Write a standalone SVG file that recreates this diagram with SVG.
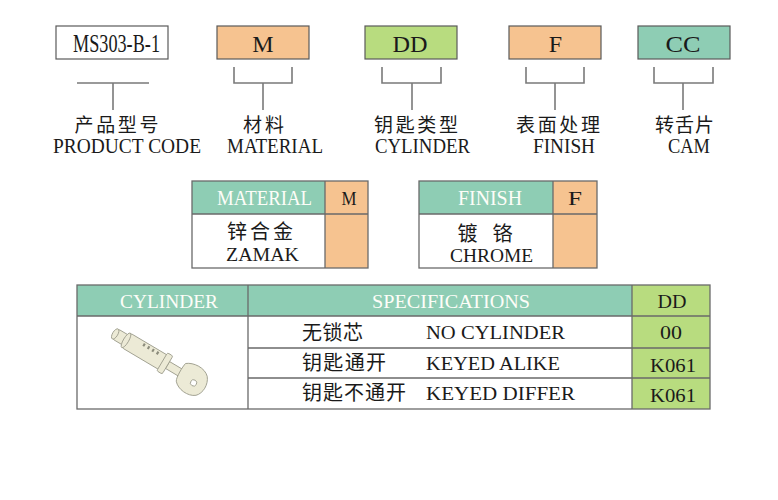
<svg xmlns="http://www.w3.org/2000/svg" width="778" height="500" viewBox="0 0 778 500">
<style>
.en{font-family:"Liberation Serif","Times New Roman",serif;fill:#1a1a1a}
.cn{font-family:"Noto Sans CJK SC","Noto Sans",sans-serif;fill:#1a1a1a}
.wt{fill:#fdfdf8}
.box{stroke:#5a5a5a;stroke-width:1.2}
.org{fill:#F6C390}
.grn{fill:#B8DC7F}
.teal{fill:#8ECDB4}
.wh{fill:#ffffff}
.ln{stroke:#6a6a6a;stroke-width:1.3;fill:none}
.br{stroke:#7a7a7a;stroke-width:1.6;fill:none}
.mid{text-anchor:middle}
</style>
<rect width="778" height="500" fill="#ffffff"/>

<g id="box-code">
<rect class="box wh" x="56" y="26" width="112" height="33"/>
<text class="en mid" x="116.5" y="52" font-size="26" textLength="87" lengthAdjust="spacingAndGlyphs">MS303-B-1</text>
</g>
<g id="box-material">
<rect class="box org" x="217" y="26" width="92" height="33"/>
<text class="en mid" x="263" y="52" font-size="24">M</text>
</g>
<g id="box-cylinder">
<rect class="box grn" x="365" y="26" width="92" height="33"/>
<text class="en mid" x="410" y="52" font-size="24" textLength="35" lengthAdjust="spacingAndGlyphs">DD</text>
</g>
<g id="box-finish">
<rect class="box org" x="509" y="26" width="92" height="33"/>
<text class="en mid" x="555.5" y="52" font-size="24">F</text>
</g>
<g id="box-cam">
<rect class="box teal" x="638" y="26" width="92" height="33"/>
<text class="en mid" x="683" y="52" font-size="24" textLength="35" lengthAdjust="spacingAndGlyphs">CC</text>
</g>

<g id="connectors">
<path class="br" d="M77 83 H149 M113 83 V110"/>
<path class="br" d="M234 67 V83 H292 V67 M263 83 V110"/>
<path class="br" d="M382 67 V83 H441 V67 M412 83 V110"/>
<path class="br" d="M526 67 V83 H584 V67 M555 83 V110"/>
<path class="br" d="M654 67 V83 H713 V67 M683 83 V110"/>
</g>

<g id="label-code">
<text class="cn mid" x="116.5" y="132" font-size="19" textLength="84">产品型号</text>
<text class="en mid" x="127" y="153" font-size="20" textLength="148" lengthAdjust="spacingAndGlyphs">PRODUCT CODE</text>
</g>
<g id="label-material">
<text class="cn mid" x="263.5" y="132" font-size="19" textLength="41">材料</text>
<text class="en mid" x="275" y="153" font-size="20" textLength="96" lengthAdjust="spacingAndGlyphs">MATERIAL</text>
</g>
<g id="label-cylinder">
<text class="cn mid" x="416" y="132" font-size="19" textLength="84">钥匙类型</text>
<text class="en mid" x="422.5" y="153" font-size="20" textLength="95" lengthAdjust="spacingAndGlyphs">CYLINDER</text>
</g>
<g id="label-finish">
<text class="cn mid" x="558" y="132" font-size="19" textLength="84">表面处理</text>
<text class="en mid" x="564" y="153" font-size="20" textLength="62" lengthAdjust="spacingAndGlyphs">FINISH</text>
</g>
<g id="label-cam">
<text class="cn mid" x="684.5" y="132" font-size="19" textLength="59">转舌片</text>
<text class="en mid" x="689" y="153" font-size="20" textLength="42" lengthAdjust="spacingAndGlyphs">CAM</text>
</g>

<g id="table-material">
<rect class="teal" x="192" y="181" width="133" height="33"/>
<rect class="org" x="325" y="181" width="43" height="87"/>
<rect class="wh" x="192" y="214" width="133" height="54"/>
<rect class="ln" x="192" y="181" width="176" height="87"/>
<path class="ln" d="M192 214 H368 M325 181 V268"/>
<text class="en wt mid" x="264.5" y="205" font-size="20" textLength="95" lengthAdjust="spacingAndGlyphs">MATERIAL</text>
<text class="en mid" x="349" y="205" font-size="19" textLength="15" lengthAdjust="spacingAndGlyphs">M</text>
<text class="cn mid" x="260" y="239" font-size="20" textLength="66">锌合金</text>
<text class="en mid" x="262.5" y="261" font-size="19.5" textLength="73" lengthAdjust="spacingAndGlyphs">ZAMAK</text>
</g>

<g id="table-finish">
<rect class="teal" x="419" y="181" width="134" height="33"/>
<rect class="org" x="553" y="181" width="44" height="87"/>
<rect class="wh" x="419" y="214" width="134" height="54"/>
<rect class="ln" x="419" y="181" width="178" height="87"/>
<path class="ln" d="M419 214 H597 M553 181 V268"/>
<text class="en wt mid" x="490" y="205" font-size="20" textLength="64" lengthAdjust="spacingAndGlyphs">FINISH</text>
<text class="en mid" x="575" y="205" font-size="19" textLength="14" lengthAdjust="spacingAndGlyphs">F</text>
<text class="cn mid" x="467.5" y="240.5" font-size="20">镀</text>
<text class="cn mid" x="502.5" y="240.5" font-size="20">铬</text>
<text class="en mid" x="491.5" y="262" font-size="19.5" textLength="83" lengthAdjust="spacingAndGlyphs">CHROME</text>
</g>

<g id="table-cylinder">
<rect class="teal" x="77" y="285" width="555" height="31"/>
<rect class="grn" x="632" y="285" width="78" height="124"/>
<rect class="wh" x="77" y="316" width="555" height="93"/>
<rect class="ln" x="77" y="285" width="633" height="124"/>
<path class="ln" d="M77 316 H710 M248 348 H710 M248 378 H710 M248 285 V409 M632 285 V409"/>
<text class="en wt mid" x="169" y="308" font-size="19.5" textLength="98" lengthAdjust="spacingAndGlyphs">CYLINDER</text>
<text class="en wt mid" x="451" y="308" font-size="19.5" textLength="158" lengthAdjust="spacingAndGlyphs">SPECIFICATIONS</text>
<text class="en mid" x="672" y="308" font-size="19.5" textLength="29" lengthAdjust="spacingAndGlyphs">DD</text>

<text class="cn" x="302" y="340" font-size="20" textLength="61">无锁芯</text>
<text class="en" x="426" y="339" font-size="19.5" textLength="139" lengthAdjust="spacingAndGlyphs">NO CYLINDER</text>
<text class="en mid" x="671" y="339" font-size="19.5" textLength="22" lengthAdjust="spacingAndGlyphs">00</text>

<text class="cn" x="302" y="370" font-size="20" textLength="84">钥匙通开</text>
<text class="en" x="426" y="370" font-size="19.5" textLength="134" lengthAdjust="spacingAndGlyphs">KEYED ALIKE</text>
<text class="en mid" x="673" y="372" font-size="19.5" textLength="46" lengthAdjust="spacingAndGlyphs">K061</text>

<text class="cn" x="302" y="400" font-size="20" textLength="104">钥匙不通开</text>
<text class="en" x="426" y="400" font-size="19.5" textLength="149" lengthAdjust="spacingAndGlyphs">KEYED DIFFER</text>
<text class="en mid" x="673" y="402" font-size="19.5" textLength="46" lengthAdjust="spacingAndGlyphs">K061</text>
</g>

<g id="key-illustration" transform="translate(117 335) rotate(30.7) scale(1.05)">
<g stroke="#9c9c8c" stroke-width="0.8" fill="#ECEAD6">
<path d="M56 -3.8 H70 L71 -2 V2.5 L70 3.8 H56 Z"/>
<path d="M70 -10 C76 -15 88 -16 94 -10 C99 -4 99 6 94 11 C88 16 76 15 71 9 C69 6 69 -6 70 -10 Z"/>
<circle cx="86" cy="2" r="3" fill="#ffffff"/>
<rect x="-2" y="-5.5" width="14" height="11" rx="2"/>
<ellipse cx="-2" cy="0" rx="2.5" ry="5.5"/>
<rect x="10" y="-8" width="42" height="16" rx="2"/>
<ellipse cx="10" cy="0" rx="2.5" ry="8"/>
<rect x="50" y="-10" width="6" height="20" rx="1.5"/>
</g>
<g fill="#8c8c7c">
<rect x="26" y="-6.5" width="2" height="3"/>
<rect x="31" y="-6.5" width="2" height="3"/>
<rect x="36" y="-6.5" width="2" height="3"/>
<rect x="41" y="-6.5" width="2" height="3"/>
</g>
</g>
</svg>
